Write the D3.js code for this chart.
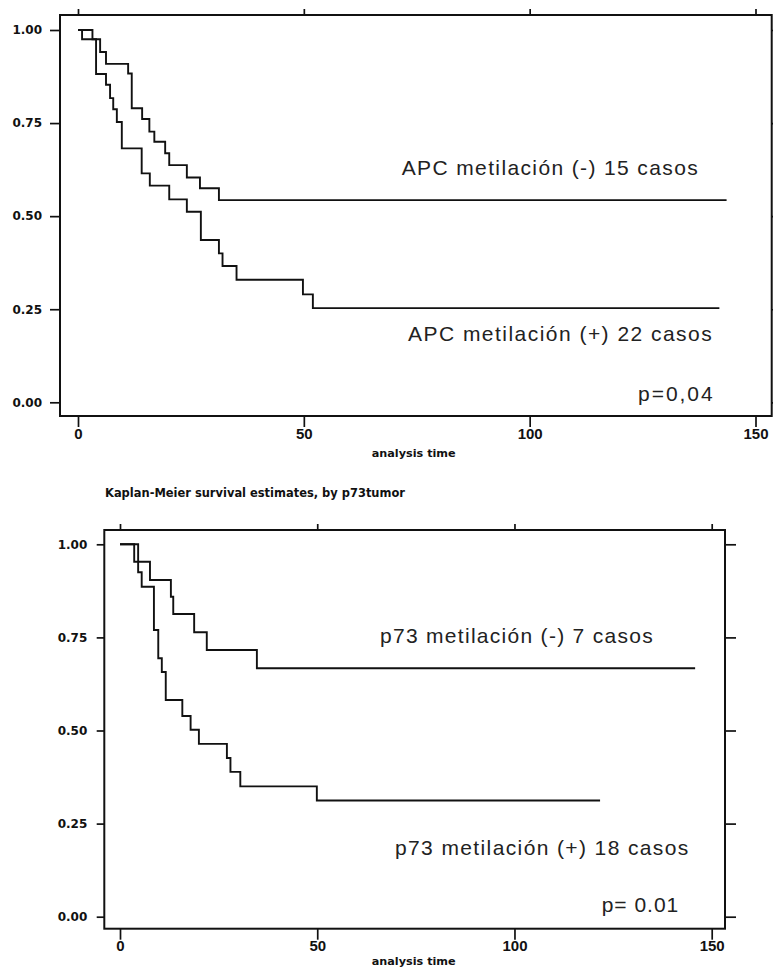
<!DOCTYPE html>
<html>
<head>
<meta charset="utf-8">
<script src="https://cdn.jsdelivr.net/npm/d3@7"></script>
<style>
  body { margin: 0; background: #fff; }
  svg { display: block; }
</style>
</head>
<body>
<svg id="chart" width="773" height="969"></svg>
<script>
// Curvas de Kaplan-Meier: tiempo de cada escalón y supervivencia tras él

// APC metilación (-), 15 casos
var apcNegTime = [3.2, 4.9, 6.2, 11.1, 11.9, 14.2, 15.8, 16.9, 19.3, 20.2, 24.1, 27.0, 31.2];
var apcNegSurv = [0.975, 0.941, 0.909, 0.883, 0.790, 0.761, 0.727, 0.700, 0.669, 0.637, 0.604, 0.575, 0.543];
var apcNegEnd = 143.6;

// APC metilación (+), 22 casos
var apcPosTime = [0.9, 4.0, 6.2, 7.1, 7.8, 8.6, 9.7, 14.1, 15.9, 20.2, 24.1, 27.2, 31.2, 32.0, 35.1, 49.8, 52.0];
var apcPosSurv = [0.975, 0.882, 0.853, 0.817, 0.787, 0.753, 0.682, 0.615, 0.582, 0.545, 0.512, 0.436, 0.400, 0.366, 0.329, 0.290, 0.253];
var apcPosEnd = 142.0;

// p73 metilación (-), 7 casos
var p73NegTime = [3.6, 7.6, 12.9, 13.5, 18.8, 22.0, 34.7];
var p73NegSurv = [0.953, 0.904, 0.859, 0.813, 0.764, 0.716, 0.667];
var p73NegEnd = 145.8;

// p73 metilación (+), 18 casos
var p73PosTime = [4.6, 5.5, 8.6, 9.7, 10.6, 11.6, 15.8, 17.9, 20.0, 27.1, 28.0, 30.5, 49.9];
var p73PosSurv = [0.925, 0.886, 0.770, 0.694, 0.657, 0.582, 0.539, 0.502, 0.464, 0.426, 0.389, 0.350, 0.312];
var p73PosEnd = 121.7;

var xTicks = [0, 50, 100, 150];
var yTicks = [0, 0.25, 0.5, 0.75, 1];
var xTitle = "analysis time";
var p73Title = "Kaplan-Meier survival estimates, by p73tumor";

var apcNotes = ["APC metilación (-) 15 casos", "APC metilación (+) 22 casos", "p=0,04"];
var p73Notes = ["p73 metilación (-) 7 casos", "p73 metilación (+) 18 casos", "p= 0.01"];

/**
 * Layout de los dos paneles (pixeles)
 */
var panels = [
  {
    x0: 78, x150: 755.5, y0: 402.3, y1: 30,
    padL: 18, padR: 16.2, padT: 15, padB: 13.7,
    yTick: 10, yPad: 8, xTitleY: 457,
    curves: [[apcNegTime, apcNegSurv, apcNegEnd], [apcPosTime, apcPosSurv, apcPosEnd]],
    notes: apcNotes,
    notePos: [[401.7, 175, 296], [408, 341, 303.7], [638, 401, 74.7]]
  },
  {
    x0: 120, x150: 711.7, y0: 916.7, y1: 544.3,
    padL: 15.7, padR: 13.3, padT: 14.3, padB: 12,
    yTick: 7.6, yPad: 9.4, xTitleY: 965,
    title: p73Title, titlePos: [105, 497.3, 300],
    curves: [[p73NegTime, p73NegSurv, p73NegEnd], [p73PosTime, p73PosSurv, p73PosEnd]],
    notes: p73Notes,
    notePos: [[380, 643, 272.7], [395, 855, 293.3], [601.7, 911.7, 76.6]]
  }
];

var svg = d3.select("#chart");
var ink = "#111";

// Punto inicial (0,1), escalones y tramo final censurado
function curvePoints(times, surv, end) {
  var pts = [[0, 1]];
  times.forEach(function(t, i) { pts.push([t, surv[i]]); });
  pts.push([end, surv[surv.length - 1]]);
  return pts;
}

function styleAxis(sel, font, size) {
  sel.select(".domain").remove();
  sel.selectAll("line").attr("stroke", ink).attr("stroke-width", 1.7);
  sel.selectAll("text")
    .attr("fill", ink)
    .attr("font-family", font)
    .attr("font-weight", "bold")
    .attr("font-size", size);
}

function drawPanel(p) {
  var x = d3.scaleLinear().domain([0, 150]).range([p.x0, p.x150]);
  var y = d3.scaleLinear().domain([0, 1]).range([p.y0, p.y1]);
  var left = p.x0 - p.padL, right = p.x150 + p.padR;
  var top = p.y1 - p.padT, bottom = p.y0 + p.padB;
  var g = svg.append("g");

  // Achsen
  g.append("g").attr("transform", "translate(" + left + ",0)")
    .call(d3.axisLeft(y).tickValues(yTicks).tickSize(p.yTick).tickPadding(p.yPad).tickFormat(d3.format(".2f")))
    .call(styleAxis, "DejaVu Sans", 12);
  g.append("g").attr("transform", "translate(" + right + ",0)")
    .call(d3.axisRight(y).tickValues(yTicks).tickSize(11).tickFormat(""))
    .call(styleAxis, "DejaVu Sans", 12);
  g.append("g").attr("transform", "translate(0," + top + ")")
    .call(d3.axisTop(x).tickValues(xTicks).tickSize(6).tickFormat(""))
    .call(styleAxis, "DejaVu Sans", 12);
  g.append("g").attr("transform", "translate(0," + bottom + ")")
    .call(d3.axisBottom(x).tickValues(xTicks).tickSize(11).tickPadding(1).tickFormat(d3.format("d")))
    .call(styleAxis, "Liberation Sans", 15);

  // Rahmen
  g.append("rect")
    .attr("x", left).attr("y", top)
    .attr("width", right - left).attr("height", bottom - top)
    .attr("fill", "none").attr("stroke", ink).attr("stroke-width", 2);

  var line = d3.line()
    .x(function(d) { return x(d[0]); })
    .y(function(d) { return y(d[1]); })
    .curve(d3.curveStepAfter);

  g.selectAll("path.km")
    .data(p.curves)
    .enter().append("path")
    .attr("class", "km")
    .attr("d", function(c) { return line(curvePoints(c[0], c[1], c[2])); })
    .attr("fill", "none")
    .attr("stroke", ink)
    .attr("stroke-width", 1.9);

  g.selectAll("text.note")
    .data(p.notes)
    .enter().append("text")
    .attr("class", "note")
    .attr("x", function(d, i) { return p.notePos[i][0]; })
    .attr("y", function(d, i) { return p.notePos[i][1]; })
    .attr("textLength", function(d, i) { return p.notePos[i][2]; })
    .attr("lengthAdjust", "spacing")
    .attr("font-family", "Liberation Sans")
    .attr("font-size", 21)
    .attr("fill", "#222")
    .text(function(d) { return d; });

  g.append("text")
    .attr("x", 371.7).attr("y", p.xTitleY)
    .attr("textLength", 84).attr("lengthAdjust", "spacingAndGlyphs")
    .attr("font-family", "DejaVu Sans").attr("font-weight", "bold")
    .attr("font-size", 11).attr("fill", ink)
    .text(xTitle);

  if (p.title) {
    g.append("text")
      .attr("x", p.titlePos[0]).attr("y", p.titlePos[1])
      .attr("textLength", p.titlePos[2]).attr("lengthAdjust", "spacingAndGlyphs")
      .attr("font-family", "DejaVu Sans").attr("font-weight", "bold")
      .attr("font-size", 12).attr("fill", ink)
      .text(p.title);
  }
}

panels.forEach(drawPanel);
</script>
</body>
</html>
